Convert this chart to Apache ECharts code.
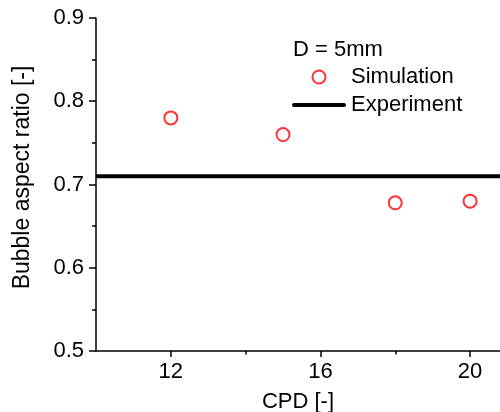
<!DOCTYPE html>
<html>
<head>
<meta charset="utf-8">
<script src="https://cdn.jsdelivr.net/npm/echarts@6/dist/echarts.min.js"></script>
<style>
  html, body { margin: 0; padding: 0; background: #fff; }
  #chart { width: 500px; height: 412px; }
</style>
</head>
<body>
<div id="chart"></div>
<script>
// Simulated bubble aspect ratio against CPD
const simCPD = [12, 15, 18, 20];
const simRatio = [0.78, 0.76, 0.678, 0.68];

// Experimental reference value, drawn across the whole CPD range
const expCPD = [10, 20.8];
const expRatio = [0.71, 0.71];

// Axis ticks
const xMajorTicks = [12, 16, 20];
const xMinorTicks = [14, 18];
const yTicks = [0.5, 0.6, 0.7, 0.8, 0.9];

const FONT = "'Liberation Sans', Arial, sans-serif";
const chart = echarts.init(document.getElementById('chart'), null, { renderer: 'canvas' });

const axisLineStyle = { color: '#000', width: 1.5 };

chart.setOption({
  backgroundColor: '#fff',
  animation: false,
  textStyle: { fontFamily: FONT, color: '#000' },
  title: {
    text: 'D = 5mm',
    left: 293, top: 39, padding: 0,
    textStyle: { fontFamily: FONT, fontSize: 22, fontWeight: 'normal', color: '#000' }
  },
  legend: {
    orient: 'vertical',
    left: 292, top: 66, padding: 0,
    itemWidth: 54, itemHeight: 13, itemGap: 6,
    symbolKeepAspect: true,
    textStyle: { fontFamily: FONT, fontSize: 22, color: '#000' },
    data: [
      { name: 'Simulation', icon: 'emptyCircle' },
      { name: 'Experiment', icon: 'path://M2,0H52A2,2 0 0 1 52,4H2A2,2 0 0 1 2,0Z' }
    ]
  },
  grid: { left: 96, right: 0, top: 18, bottom: 61, outerBoundsMode: 'none', containLabel: false },
  xAxis: [{
    type: 'value',
    min: expCPD[0], max: expCPD[1],
    name: 'CPD [-]', nameLocation: 'middle', nameGap: 40,
    nameTextStyle: { fontFamily: FONT, fontSize: 22, color: '#000' },
    axisLine: { show: true, lineStyle: axisLineStyle },
    axisTick: { show: true, length: 6, lineStyle: axisLineStyle, customValues: xMajorTicks },
    axisLabel: { fontFamily: FONT, fontSize: 22, color: '#000', margin: 10, customValues: xMajorTicks },
    splitLine: { show: false }
  }, {
    // minor ticks between labelled values
    type: 'value',
    position: 'bottom',
    min: expCPD[0], max: expCPD[1],
    axisLine: { show: false },
    axisTick: { show: true, length: 3.5, lineStyle: axisLineStyle, customValues: xMinorTicks },
    axisLabel: { show: false },
    splitLine: { show: false }
  }],
  yAxis: {
    type: 'value',
    min: yTicks[0], max: yTicks[yTicks.length - 1], interval: 0.1,
    name: 'Bubble aspect ratio [-]', nameLocation: 'middle', nameGap: 62,
    nameTextStyle: { fontFamily: FONT, fontSize: 23, color: '#000', padding: [0, 0, 0, 14] },
    axisLine: { show: true, lineStyle: axisLineStyle },
    axisTick: { show: true, length: 7, lineStyle: axisLineStyle },
    minorTick: { show: true, splitNumber: 2, length: 4, lineStyle: axisLineStyle },
    axisLabel: { fontFamily: FONT, fontSize: 22, color: '#000', margin: 12,
      formatter: v => v.toFixed(1) },
    splitLine: { show: false }
  },
  series: [{
    name: 'Experiment',
    type: 'line',
    xAxisIndex: 0,
    data: expCPD.map((x, i) => [x, expRatio[i]]),
    symbol: 'none',
    lineStyle: { color: '#000', width: 4 },
    itemStyle: { color: '#000' },
    z: 2
  }, {
    name: 'Simulation',
    type: 'scatter',
    xAxisIndex: 0,
    data: simCPD.map((x, i) => [x, simRatio[i]]),
    symbol: 'emptyCircle',
    symbolSize: 13,
    itemStyle: { color: '#ff0000', borderColor: '#ff0000', borderWidth: 1 },
    z: 3
  }]
});
</script>
</body>
</html>
